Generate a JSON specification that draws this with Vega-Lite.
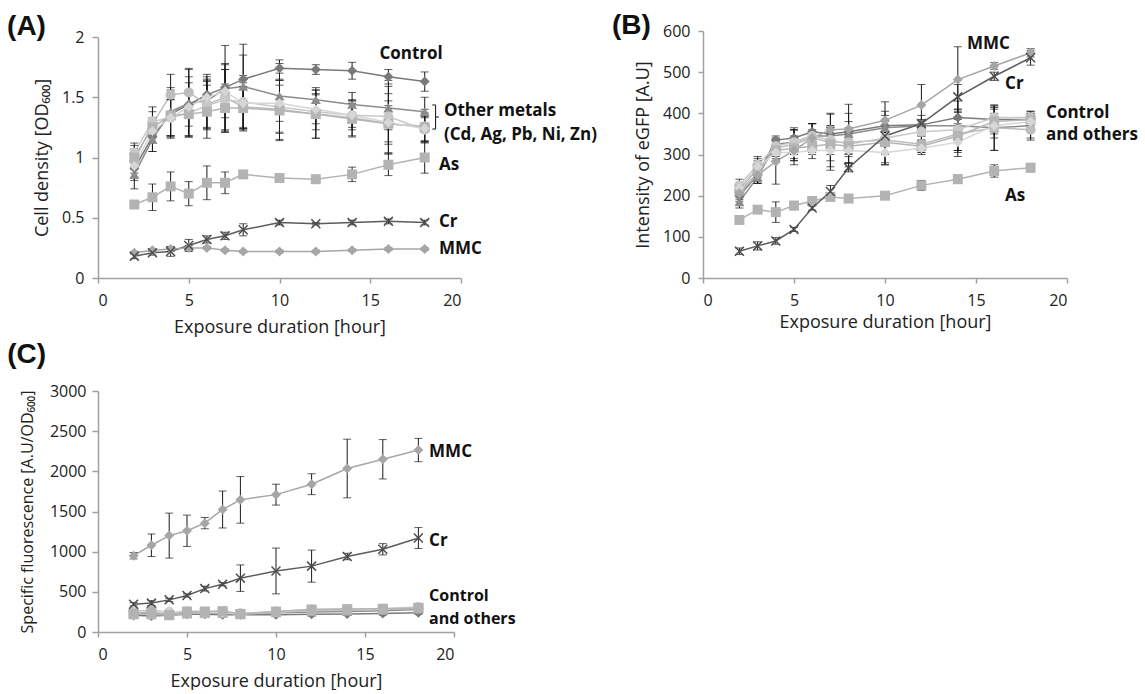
{
"$schema": "https://vega.github.io/schema/vega-lite/v6.json",
"padding": {"left": 7, "top": 12, "right": 0, "bottom": 0},
"config": {"font": "Open Sans", "view": {"stroke": null},
 "axis": {"grid": false, "domainColor": "#a0a0a0", "tickColor": "#a0a0a0", "domainWidth": 1.5, "tickWidth": 1.5, "labelColor": "#222", "titleColor": "#222", "labelFontSize": 16, "titleFontSize": 18, "titleFontWeight": "normal", "labelFont": "Open Sans", "titleFont": "Open Sans"}},
"datasets": {
"A": [
{"s":"Control","t":2,"v":0.91,"e":0.1},{"s":"Control","t":3,"v":1.17,"e":0.12},{"s":"Control","t":4,"v":1.36,"e":0.2},{"s":"Control","t":5,"v":1.44,"e":0.18},{"s":"Control","t":6,"v":1.52,"e":0.15},{"s":"Control","t":7,"v":1.58,"e":0.15},{"s":"Control","t":8,"v":1.65,"e":0.2},{"s":"Control","t":10,"v":1.74,"e":0.04},{"s":"Control","t":12,"v":1.73,"e":0.04},{"s":"Control","t":14,"v":1.72,"e":0.07},{"s":"Control","t":16,"v":1.67,"e":0.06},{"s":"Control","t":18,"v":1.63,"e":0.08},
{"s":"Cd","t":2,"v":0.86,"e":0.12},{"s":"Cd","t":3,"v":1.15,"e":0.1},{"s":"Cd","t":4,"v":1.38,"e":0.2},{"s":"Cd","t":5,"v":1.45,"e":0.28},{"s":"Cd","t":6,"v":1.47,"e":0.22},{"s":"Cd","t":7,"v":1.57,"e":0.36},{"s":"Cd","t":8,"v":1.59,"e":0.35},{"s":"Cd","t":10,"v":1.51,"e":0.3},{"s":"Cd","t":12,"v":1.48,"e":0.1},{"s":"Cd","t":14,"v":1.44,"e":0.1},{"s":"Cd","t":16,"v":1.41,"e":0.18},{"s":"Cd","t":18,"v":1.38,"e":0.12},
{"s":"Ag","t":2,"v":0.97,"e":0.1},{"s":"Ag","t":3,"v":1.28,"e":0.1},{"s":"Ag","t":4,"v":1.52,"e":0.17},{"s":"Ag","t":5,"v":1.54,"e":0.2},{"s":"Ag","t":6,"v":1.44,"e":0.2},{"s":"Ag","t":7,"v":1.5,"e":0.28},{"s":"Ag","t":8,"v":1.42,"e":0.2},{"s":"Ag","t":10,"v":1.4,"e":0.25},{"s":"Ag","t":12,"v":1.36,"e":0.2},{"s":"Ag","t":14,"v":1.33,"e":0.15},{"s":"Ag","t":16,"v":1.28,"e":0.25},{"s":"Ag","t":18,"v":1.26,"e":0.14},
{"s":"Pb","t":2,"v":1.04,"e":0.08},{"s":"Pb","t":3,"v":1.3,"e":0.12},{"s":"Pb","t":4,"v":1.33,"e":0.15},{"s":"Pb","t":5,"v":1.37,"e":0.19},{"s":"Pb","t":6,"v":1.43,"e":0.2},{"s":"Pb","t":7,"v":1.48,"e":0.25},{"s":"Pb","t":8,"v":1.46,"e":0.22},{"s":"Pb","t":10,"v":1.42,"e":0.22},{"s":"Pb","t":12,"v":1.38,"e":0.15},{"s":"Pb","t":14,"v":1.35,"e":0.12},{"s":"Pb","t":16,"v":1.34,"e":0.3},{"s":"Pb","t":18,"v":1.23,"e":0.1},
{"s":"Ni","t":2,"v":1.0,"e":0.1},{"s":"Ni","t":3,"v":1.25,"e":0.08},{"s":"Ni","t":4,"v":1.35,"e":0.18},{"s":"Ni","t":5,"v":1.36,"e":0.18},{"s":"Ni","t":6,"v":1.38,"e":0.22},{"s":"Ni","t":7,"v":1.41,"e":0.2},{"s":"Ni","t":8,"v":1.41,"e":0.18},{"s":"Ni","t":10,"v":1.39,"e":0.25},{"s":"Ni","t":12,"v":1.36,"e":0.2},{"s":"Ni","t":14,"v":1.32,"e":0.15},{"s":"Ni","t":16,"v":1.28,"e":0.15},{"s":"Ni","t":18,"v":1.25,"e":0.12},
{"s":"Zn","t":2,"v":0.93,"e":0.1},{"s":"Zn","t":3,"v":1.22,"e":0.1},{"s":"Zn","t":4,"v":1.33,"e":0.15},{"s":"Zn","t":5,"v":1.42,"e":0.25},{"s":"Zn","t":6,"v":1.5,"e":0.15},{"s":"Zn","t":7,"v":1.55,"e":0.22},{"s":"Zn","t":8,"v":1.45,"e":0.2},{"s":"Zn","t":10,"v":1.45,"e":0.15},{"s":"Zn","t":12,"v":1.4,"e":0.12},{"s":"Zn","t":14,"v":1.35,"e":0.1},{"s":"Zn","t":16,"v":1.29,"e":0.18},{"s":"Zn","t":18,"v":1.24,"e":0.1},
{"s":"As","t":2,"v":0.61,"e":0.02},{"s":"As","t":3,"v":0.67,"e":0.11},{"s":"As","t":4,"v":0.76,"e":0.12},{"s":"As","t":5,"v":0.7,"e":0.1},{"s":"As","t":6,"v":0.79,"e":0.14},{"s":"As","t":7,"v":0.79,"e":0.09},{"s":"As","t":8,"v":0.86,"e":0.02},{"s":"As","t":10,"v":0.83,"e":0.03},{"s":"As","t":12,"v":0.82,"e":0.02},{"s":"As","t":14,"v":0.86,"e":0.06},{"s":"As","t":16,"v":0.94,"e":0.09},{"s":"As","t":18,"v":1.0,"e":0.13},
{"s":"Cr","t":2,"v":0.18,"e":0.02},{"s":"Cr","t":3,"v":0.21,"e":0.02},{"s":"Cr","t":4,"v":0.22,"e":0.04},{"s":"Cr","t":5,"v":0.27,"e":0.05},{"s":"Cr","t":6,"v":0.32,"e":0.03},{"s":"Cr","t":7,"v":0.35,"e":0.03},{"s":"Cr","t":8,"v":0.4,"e":0.05},{"s":"Cr","t":10,"v":0.46,"e":0.02},{"s":"Cr","t":12,"v":0.45,"e":0.01},{"s":"Cr","t":14,"v":0.46,"e":0.02},{"s":"Cr","t":16,"v":0.47,"e":0.02},{"s":"Cr","t":18,"v":0.46,"e":0.02},
{"s":"MMC","t":2,"v":0.21,"e":0.01},{"s":"MMC","t":3,"v":0.23,"e":0.01},{"s":"MMC","t":4,"v":0.24,"e":0.02},{"s":"MMC","t":5,"v":0.25,"e":0.02},{"s":"MMC","t":6,"v":0.25,"e":0.01},{"s":"MMC","t":7,"v":0.23,"e":0.01},{"s":"MMC","t":8,"v":0.22,"e":0.01},{"s":"MMC","t":10,"v":0.22,"e":0.01},{"s":"MMC","t":12,"v":0.22,"e":0.01},{"s":"MMC","t":14,"v":0.23,"e":0.01},{"s":"MMC","t":16,"v":0.24,"e":0.01},{"s":"MMC","t":18,"v":0.24,"e":0.01}
],
"B": [
{"s":"Control","t":2,"v":200,"e":15},{"s":"Control","t":3,"v":250,"e":20},{"s":"Control","t":4,"v":335,"e":10},{"s":"Control","t":5,"v":340,"e":25},{"s":"Control","t":6,"v":355,"e":20},{"s":"Control","t":7,"v":350,"e":15},{"s":"Control","t":8,"v":355,"e":10},{"s":"Control","t":10,"v":370,"e":15},{"s":"Control","t":12,"v":372,"e":10},{"s":"Control","t":14,"v":390,"e":15},{"s":"Control","t":16,"v":385,"e":30},{"s":"Control","t":18,"v":385,"e":20},
{"s":"Cd","t":2,"v":185,"e":15},{"s":"Cd","t":3,"v":245,"e":15},{"s":"Cd","t":4,"v":325,"e":15},{"s":"Cd","t":5,"v":330,"e":30},{"s":"Cd","t":6,"v":345,"e":30},{"s":"Cd","t":7,"v":345,"e":25},{"s":"Cd","t":8,"v":350,"e":50},{"s":"Cd","t":10,"v":365,"e":40},{"s":"Cd","t":12,"v":370,"e":25},{"s":"Cd","t":14,"v":370,"e":60},{"s":"Cd","t":16,"v":365,"e":55},{"s":"Cd","t":18,"v":370,"e":30},
{"s":"Ag","t":2,"v":210,"e":20},{"s":"Ag","t":3,"v":255,"e":20},{"s":"Ag","t":4,"v":315,"e":20},{"s":"Ag","t":5,"v":325,"e":35},{"s":"Ag","t":6,"v":340,"e":35},{"s":"Ag","t":7,"v":330,"e":68},{"s":"Ag","t":8,"v":330,"e":50},{"s":"Ag","t":10,"v":335,"e":60},{"s":"Ag","t":12,"v":325,"e":20},{"s":"Ag","t":14,"v":350,"e":40},{"s":"Ag","t":16,"v":365,"e":55},{"s":"Ag","t":18,"v":360,"e":25},
{"s":"Pb","t":2,"v":225,"e":15},{"s":"Pb","t":3,"v":275,"e":20},{"s":"Pb","t":4,"v":320,"e":15},{"s":"Pb","t":5,"v":330,"e":30},{"s":"Pb","t":6,"v":345,"e":30},{"s":"Pb","t":7,"v":335,"e":35},{"s":"Pb","t":8,"v":325,"e":30},{"s":"Pb","t":10,"v":340,"e":40},{"s":"Pb","t":12,"v":355,"e":20},{"s":"Pb","t":14,"v":360,"e":50},{"s":"Pb","t":16,"v":390,"e":25},{"s":"Pb","t":18,"v":390,"e":15},
{"s":"Ni","t":2,"v":215,"e":10},{"s":"Ni","t":3,"v":265,"e":20},{"s":"Ni","t":4,"v":310,"e":20},{"s":"Ni","t":5,"v":315,"e":30},{"s":"Ni","t":6,"v":320,"e":20},{"s":"Ni","t":7,"v":325,"e":40},{"s":"Ni","t":8,"v":320,"e":40},{"s":"Ni","t":10,"v":330,"e":50},{"s":"Ni","t":12,"v":320,"e":15},{"s":"Ni","t":14,"v":345,"e":40},{"s":"Ni","t":16,"v":380,"e":30},{"s":"Ni","t":18,"v":385,"e":15},
{"s":"Zn","t":2,"v":220,"e":10},{"s":"Zn","t":3,"v":270,"e":20},{"s":"Zn","t":4,"v":305,"e":20},{"s":"Zn","t":5,"v":305,"e":30},{"s":"Zn","t":6,"v":310,"e":20},{"s":"Zn","t":7,"v":310,"e":40},{"s":"Zn","t":8,"v":310,"e":40},{"s":"Zn","t":10,"v":305,"e":30},{"s":"Zn","t":12,"v":315,"e":15},{"s":"Zn","t":14,"v":330,"e":35},{"s":"Zn","t":16,"v":370,"e":30},{"s":"Zn","t":18,"v":380,"e":15},
{"s":"As","t":2,"v":141,"e":5},{"s":"As","t":3,"v":166,"e":5},{"s":"As","t":4,"v":160,"e":25},{"s":"As","t":5,"v":176,"e":10},{"s":"As","t":6,"v":187,"e":5},{"s":"As","t":7,"v":197,"e":5},{"s":"As","t":8,"v":193,"e":5},{"s":"As","t":10,"v":200,"e":5},{"s":"As","t":12,"v":225,"e":12},{"s":"As","t":14,"v":240,"e":10},{"s":"As","t":16,"v":260,"e":15},{"s":"As","t":18,"v":268,"e":10},
{"s":"Cr","t":2,"v":65,"e":8},{"s":"Cr","t":3,"v":78,"e":10},{"s":"Cr","t":4,"v":90,"e":8},{"s":"Cr","t":5,"v":118,"e":5},{"s":"Cr","t":6,"v":170,"e":5},{"s":"Cr","t":7,"v":210,"e":15},{"s":"Cr","t":8,"v":268,"e":10},{"s":"Cr","t":10,"v":345,"e":10},{"s":"Cr","t":12,"v":375,"e":10},{"s":"Cr","t":14,"v":440,"e":30},{"s":"Cr","t":16,"v":490,"e":10},{"s":"Cr","t":18,"v":535,"e":18},
{"s":"MMC","t":2,"v":205,"e":10},{"s":"MMC","t":3,"v":250,"e":20},{"s":"MMC","t":4,"v":283,"e":55},{"s":"MMC","t":5,"v":310,"e":25},{"s":"MMC","t":6,"v":340,"e":20},{"s":"MMC","t":7,"v":360,"e":40},{"s":"MMC","t":8,"v":362,"e":60},{"s":"MMC","t":10,"v":383,"e":45},{"s":"MMC","t":12,"v":420,"e":50},{"s":"MMC","t":14,"v":482,"e":80},{"s":"MMC","t":16,"v":515,"e":8},{"s":"MMC","t":18,"v":547,"e":10}
],
"C": [
{"s":"Control","t":2,"v":210,"e":20},{"s":"Control","t":3,"v":200,"e":20},{"s":"Control","t":4,"v":210,"e":20},{"s":"Control","t":5,"v":220,"e":20},{"s":"Control","t":6,"v":220,"e":20},{"s":"Control","t":7,"v":215,"e":20},{"s":"Control","t":8,"v":215,"e":20},{"s":"Control","t":10,"v":215,"e":20},{"s":"Control","t":12,"v":220,"e":20},{"s":"Control","t":14,"v":225,"e":20},{"s":"Control","t":16,"v":230,"e":20},{"s":"Control","t":18,"v":240,"e":20},
{"s":"Cd","t":2,"v":230,"e":20},{"s":"Cd","t":3,"v":230,"e":20},{"s":"Cd","t":4,"v":220,"e":20},{"s":"Cd","t":5,"v":240,"e":20},{"s":"Cd","t":6,"v":240,"e":20},{"s":"Cd","t":7,"v":230,"e":20},{"s":"Cd","t":8,"v":220,"e":20},{"s":"Cd","t":10,"v":240,"e":20},{"s":"Cd","t":12,"v":250,"e":20},{"s":"Cd","t":14,"v":255,"e":20},{"s":"Cd","t":16,"v":265,"e":20},{"s":"Cd","t":18,"v":280,"e":20},
{"s":"Ag","t":2,"v":240,"e":20},{"s":"Ag","t":3,"v":240,"e":20},{"s":"Ag","t":4,"v":230,"e":20},{"s":"Ag","t":5,"v":250,"e":20},{"s":"Ag","t":6,"v":240,"e":20},{"s":"Ag","t":7,"v":250,"e":20},{"s":"Ag","t":8,"v":230,"e":20},{"s":"Ag","t":10,"v":250,"e":20},{"s":"Ag","t":12,"v":270,"e":20},{"s":"Ag","t":14,"v":275,"e":20},{"s":"Ag","t":16,"v":285,"e":20},{"s":"Ag","t":18,"v":290,"e":20},
{"s":"Pb","t":2,"v":260,"e":20},{"s":"Pb","t":3,"v":270,"e":20},{"s":"Pb","t":4,"v":250,"e":20},{"s":"Pb","t":5,"v":255,"e":20},{"s":"Pb","t":6,"v":250,"e":20},{"s":"Pb","t":7,"v":250,"e":20},{"s":"Pb","t":8,"v":230,"e":20},{"s":"Pb","t":10,"v":255,"e":20},{"s":"Pb","t":12,"v":280,"e":20},{"s":"Pb","t":14,"v":285,"e":20},{"s":"Pb","t":16,"v":290,"e":20},{"s":"Pb","t":18,"v":310,"e":20},
{"s":"Ni","t":2,"v":220,"e":20},{"s":"Ni","t":3,"v":220,"e":20},{"s":"Ni","t":4,"v":210,"e":20},{"s":"Ni","t":5,"v":230,"e":20},{"s":"Ni","t":6,"v":235,"e":20},{"s":"Ni","t":7,"v":240,"e":20},{"s":"Ni","t":8,"v":220,"e":20},{"s":"Ni","t":10,"v":245,"e":20},{"s":"Ni","t":12,"v":265,"e":20},{"s":"Ni","t":14,"v":270,"e":20},{"s":"Ni","t":16,"v":280,"e":20},{"s":"Ni","t":18,"v":300,"e":20},
{"s":"Zn","t":2,"v":250,"e":20},{"s":"Zn","t":3,"v":250,"e":20},{"s":"Zn","t":4,"v":245,"e":20},{"s":"Zn","t":5,"v":260,"e":20},{"s":"Zn","t":6,"v":250,"e":20},{"s":"Zn","t":7,"v":240,"e":20},{"s":"Zn","t":8,"v":225,"e":20},{"s":"Zn","t":10,"v":250,"e":20},{"s":"Zn","t":12,"v":275,"e":20},{"s":"Zn","t":14,"v":280,"e":20},{"s":"Zn","t":16,"v":285,"e":20},{"s":"Zn","t":18,"v":305,"e":20},
{"s":"As","t":2,"v":230,"e":20},{"s":"As","t":3,"v":250,"e":20},{"s":"As","t":4,"v":210,"e":20},{"s":"As","t":5,"v":255,"e":20},{"s":"As","t":6,"v":255,"e":20},{"s":"As","t":7,"v":260,"e":20},{"s":"As","t":8,"v":225,"e":20},{"s":"As","t":10,"v":255,"e":20},{"s":"As","t":12,"v":280,"e":20},{"s":"As","t":14,"v":285,"e":20},{"s":"As","t":16,"v":290,"e":20},{"s":"As","t":18,"v":300,"e":20},
{"s":"Cr","t":2,"v":345,"e":20},{"s":"Cr","t":3,"v":360,"e":30},{"s":"Cr","t":4,"v":400,"e":20},{"s":"Cr","t":5,"v":455,"e":20},{"s":"Cr","t":6,"v":540,"e":30},{"s":"Cr","t":7,"v":595,"e":20},{"s":"Cr","t":8,"v":670,"e":165},{"s":"Cr","t":10,"v":760,"e":285},{"s":"Cr","t":12,"v":820,"e":200},{"s":"Cr","t":14,"v":940,"e":40},{"s":"Cr","t":16,"v":1030,"e":70},{"s":"Cr","t":18,"v":1170,"e":130},
{"s":"MMC","t":2,"v":950,"e":40},{"s":"MMC","t":3,"v":1080,"e":140},{"s":"MMC","t":4,"v":1200,"e":280},{"s":"MMC","t":5,"v":1260,"e":195},{"s":"MMC","t":6,"v":1355,"e":70},{"s":"MMC","t":7,"v":1525,"e":230},{"s":"MMC","t":8,"v":1645,"e":290},{"s":"MMC","t":10,"v":1710,"e":130},{"s":"MMC","t":12,"v":1840,"e":130},{"s":"MMC","t":14,"v":2035,"e":365},{"s":"MMC","t":16,"v":2150,"e":245},{"s":"MMC","t":18,"v":2265,"e":145}
]
},
"spacing": 4,
"vconcat": [
{"hconcat": [
{"width": 363, "height": 247,
 "layer": [
  {"data": {"name": "A"}, "mark": {"type": "line", "strokeWidth": 1.5},
   "encoding": {
    "x": {"field": "t", "type": "quantitative", "title": "Exposure duration [hour]", "scale": {"domain": [0, 20], "nice": false}, "axis": {"values": [0, 5, 10, 15, 20], "tickSize": 5, "labelPadding": 9, "titlePadding": 10}},
    "y": {"field": "v", "type": "quantitative", "title": "Cell density [OD₆₀₀]", "scale": {"domain": [0, 2], "nice": false, "range": [247, 6]}, "axis": {"values": [0, 0.5, 1, 1.5, 2], "format": "~g", "tickSize": 6, "labelPadding": 8, "titlePadding": 10}},
    "color": {"field": "s", "type": "nominal", "legend": null, "scale": {"domain": ["Control","Cd","Ag","Pb","Ni","Zn","As","Cr","MMC"], "range": ["#7a7a7a","#8c8c8c","#bdbdbd","#c9c9c9","#b5b5b5","#d6d6d6","#b3b3b3","#5c5c5c","#a6a6a6"]}}}},
  {"data": {"name": "A"}, "mark": {"type": "errorbar", "ticks": {"size": 8}, "color": "#1a1a1a", "thickness": 1},
   "encoding": {"x": {"field": "t", "type": "quantitative", "title": "Exposure duration [hour]"}, "y": {"field": "v", "type": "quantitative", "title": "Cell density [OD₆₀₀]"}, "yError": {"field": "e"}}},
  {"data": {"name": "A"}, "transform": [{"filter": "datum.s !== 'Cr'"}], "mark": {"type": "point", "filled": true, "opacity": 1, "size": 100},
   "encoding": {"x": {"field": "t", "type": "quantitative", "title": "Exposure duration [hour]"}, "y": {"field": "v", "type": "quantitative", "title": "Cell density [OD₆₀₀]"},
    "color": {"field": "s", "type": "nominal", "legend": null},
    "shape": {"field": "s", "type": "nominal", "legend": null, "scale": {"domain": ["Control","Cd","Ag","Pb","Ni","Zn","As","Cr","MMC"], "range": ["diamond","triangle-up","circle","circle","square","diamond","square","cross","diamond"]}}}},
  {"data": {"name": "A"}, "transform": [{"filter": "datum.s === 'Cr'"}], "mark": {"type": "point", "shape": "M-1,-1L1,1M1,-1L-1,1", "filled": false, "strokeWidth": 1.5, "size": 80, "color": "#4d4d4d", "opacity": 1},
   "encoding": {"x": {"field": "t", "type": "quantitative", "title": "Exposure duration [hour]"}, "y": {"field": "v", "type": "quantitative", "title": "Cell density [OD₆₀₀]"}}},
  {"data": {"values": [{}]}, "mark": {"type": "text", "align": "left", "baseline": "middle", "fontSize": 28, "fontWeight": "bold", "font": "Liberation Sans", "color": "#111"}, "encoding": {"x": {"datum": -5.01}, "y": {"datum": 2.083}, "text": {"value": "(A)"}}},
  {"data": {"values": [{}]}, "mark": {"type": "text", "align": "center", "baseline": "middle", "fontSize": 17, "fontWeight": "bold", "color": "#111"}, "encoding": {"x": {"datum": 17.25}, "y": {"datum": 1.86}, "text": {"value": "Control"}}},
  {"data": {"values": [{}]}, "mark": {"type": "text", "align": "left", "baseline": "middle", "fontSize": 17, "fontWeight": "bold", "color": "#111"}, "encoding": {"x": {"datum": 19.06}, "y": {"datum": 1.385}, "text": {"value": "Other metals"}}},
  {"data": {"values": [{}]}, "mark": {"type": "text", "align": "left", "baseline": "middle", "fontSize": 17, "fontWeight": "bold", "color": "#111"}, "encoding": {"x": {"datum": 19.06}, "y": {"datum": 1.19}, "text": {"value": "(Cd, Ag, Pb, Ni, Zn)"}}},
  {"data": {"values": [{}]}, "mark": {"type": "text", "align": "left", "baseline": "middle", "fontSize": 17, "fontWeight": "bold", "color": "#111"}, "encoding": {"x": {"datum": 18.79}, "y": {"datum": 0.938}, "text": {"value": "As"}}},
  {"data": {"values": [{}]}, "mark": {"type": "text", "align": "left", "baseline": "middle", "fontSize": 17, "fontWeight": "bold", "color": "#111"}, "encoding": {"x": {"datum": 18.79}, "y": {"datum": 0.465}, "text": {"value": "Cr"}}},
  {"data": {"values": [{}]}, "mark": {"type": "text", "align": "left", "baseline": "middle", "fontSize": 17, "fontWeight": "bold", "color": "#111"}, "encoding": {"x": {"datum": 18.79}, "y": {"datum": 0.241}, "text": {"value": "MMC"}}},
  {"data": {"values": [{}]}, "mark": {"type": "rule", "color": "#111", "strokeWidth": 1}, "encoding": {"x": {"datum": 18.6}, "y": {"datum": 1.236}, "y2": {"datum": 1.436}}},
  {"data": {"values": [{}]}, "mark": {"type": "rule", "color": "#111", "strokeWidth": 1}, "encoding": {"x": {"datum": 18.42}, "x2": {"datum": 18.6}, "y": {"datum": 1.436}}},
  {"data": {"values": [{}]}, "mark": {"type": "rule", "color": "#111", "strokeWidth": 1}, "encoding": {"x": {"datum": 18.42}, "x2": {"datum": 18.6}, "y": {"datum": 1.236}}},
  {"data": {"values": [{}]}, "mark": {"type": "rule", "color": "#111", "strokeWidth": 1}, "encoding": {"x": {"datum": 18.6}, "x2": {"datum": 18.78}, "y": {"datum": 1.336}}}
 ]},
{"width": 364, "height": 247,
 "layer": [
  {"data": {"name": "B"}, "mark": {"type": "line", "strokeWidth": 1.5},
   "encoding": {
    "x": {"field": "t", "type": "quantitative", "title": "Exposure duration [hour]", "scale": {"domain": [0, 20], "nice": false}, "axis": {"values": [0, 5, 10, 15, 20], "tickSize": 5, "labelPadding": 9, "titlePadding": 5}},
    "y": {"field": "v", "type": "quantitative", "title": "Intensity of eGFP [A.U]", "scale": {"domain": [0, 600], "nice": false}, "axis": {"values": [0, 100, 200, 300, 400, 500, 600], "tickSize": 5, "labelPadding": 8, "titlePadding": 10}},
    "color": {"field": "s", "type": "nominal", "legend": null, "scale": {"domain": ["Control","Cd","Ag","Pb","Ni","Zn","As","Cr","MMC"], "range": ["#7a7a7a","#8c8c8c","#bdbdbd","#c9c9c9","#b5b5b5","#d6d6d6","#b3b3b3","#5c5c5c","#a6a6a6"]}}}},
  {"data": {"name": "B"}, "mark": {"type": "errorbar", "ticks": {"size": 8}, "color": "#1a1a1a", "thickness": 1},
   "encoding": {"x": {"field": "t", "type": "quantitative", "title": "Exposure duration [hour]"}, "y": {"field": "v", "type": "quantitative", "title": "Intensity of eGFP [A.U]"}, "yError": {"field": "e"}}},
  {"data": {"name": "B"}, "transform": [{"filter": "datum.s !== 'Cr'"}], "mark": {"type": "point", "filled": true, "opacity": 1, "size": 100},
   "encoding": {"x": {"field": "t", "type": "quantitative", "title": "Exposure duration [hour]"}, "y": {"field": "v", "type": "quantitative", "title": "Intensity of eGFP [A.U]"},
    "color": {"field": "s", "type": "nominal", "legend": null},
    "shape": {"field": "s", "type": "nominal", "legend": null, "scale": {"domain": ["Control","Cd","Ag","Pb","Ni","Zn","As","Cr","MMC"], "range": ["diamond","triangle-up","circle","circle","square","diamond","square","cross","diamond"]}}}},
  {"data": {"name": "B"}, "transform": [{"filter": "datum.s === 'Cr'"}], "mark": {"type": "point", "shape": "M-1,-1L1,1M1,-1L-1,1", "filled": false, "strokeWidth": 1.5, "size": 80, "color": "#4d4d4d", "opacity": 1},
   "encoding": {"x": {"field": "t", "type": "quantitative", "title": "Exposure duration [hour]"}, "y": {"field": "v", "type": "quantitative", "title": "Intensity of eGFP [A.U]"}}},
  {"data": {"values": [{}]}, "mark": {"type": "text", "align": "left", "baseline": "middle", "fontSize": 28, "fontWeight": "bold", "font": "Liberation Sans", "color": "#111"}, "encoding": {"x": {"datum": -5.0}, "y": {"datum": 612}, "text": {"value": "(B)"}}},
  {"data": {"values": [{}]}, "mark": {"type": "text", "align": "left", "baseline": "middle", "fontSize": 17, "fontWeight": "bold", "color": "#111"}, "encoding": {"x": {"datum": 14.5}, "y": {"datum": 568}, "text": {"value": "MMC"}}},
  {"data": {"values": [{}]}, "mark": {"type": "text", "align": "left", "baseline": "middle", "fontSize": 17, "fontWeight": "bold", "color": "#111"}, "encoding": {"x": {"datum": 16.6}, "y": {"datum": 471}, "text": {"value": "Cr"}}},
  {"data": {"values": [{}]}, "mark": {"type": "text", "align": "left", "baseline": "middle", "fontSize": 17, "fontWeight": "bold", "color": "#111"}, "encoding": {"x": {"datum": 18.85}, "y": {"datum": 400}, "text": {"value": "Control"}}},
  {"data": {"values": [{}]}, "mark": {"type": "text", "align": "left", "baseline": "middle", "fontSize": 17, "fontWeight": "bold", "color": "#111"}, "encoding": {"x": {"datum": 18.85}, "y": {"datum": 348}, "text": {"value": "and others"}}},
  {"data": {"values": [{}]}, "mark": {"type": "text", "align": "left", "baseline": "middle", "fontSize": 17, "fontWeight": "bold", "color": "#111"}, "encoding": {"x": {"datum": 16.6}, "y": {"datum": 199}, "text": {"value": "As"}}}
 ]}
], "spacing": 15},
{"width": 356, "height": 241,
 "layer": [
  {"data": {"name": "C"}, "mark": {"type": "line", "strokeWidth": 1.5},
   "encoding": {
    "x": {"field": "t", "type": "quantitative", "title": "Exposure duration [hour]", "scale": {"domain": [0, 20], "nice": false}, "axis": {"values": [0, 5, 10, 15, 20], "tickSize": 5, "labelPadding": 9, "titlePadding": 10}},
    "y": {"field": "v", "type": "quantitative", "title": "Specific fluorescence [A.U/OD₆₀₀]", "scale": {"domain": [0, 3000], "nice": false}, "axis": {"values": [0, 500, 1000, 1500, 2000, 2500, 3000], "format": "d", "tickSize": 6, "labelPadding": 6, "titlePadding": 14, "titleFontSize": 16}},
    "color": {"field": "s", "type": "nominal", "legend": null, "scale": {"domain": ["Control","Cd","Ag","Pb","Ni","Zn","As","Cr","MMC"], "range": ["#7a7a7a","#8c8c8c","#bdbdbd","#c9c9c9","#b5b5b5","#d6d6d6","#b3b3b3","#5c5c5c","#a6a6a6"]}}}},
  {"data": {"name": "C"}, "mark": {"type": "errorbar", "ticks": {"size": 8}, "color": "#1a1a1a", "thickness": 1},
   "encoding": {"x": {"field": "t", "type": "quantitative", "title": "Exposure duration [hour]"}, "y": {"field": "v", "type": "quantitative", "title": "Specific fluorescence [A.U/OD₆₀₀]"}, "yError": {"field": "e"}}},
  {"data": {"name": "C"}, "transform": [{"filter": "datum.s !== 'Cr'"}], "mark": {"type": "point", "filled": true, "opacity": 1, "size": 100},
   "encoding": {"x": {"field": "t", "type": "quantitative", "title": "Exposure duration [hour]"}, "y": {"field": "v", "type": "quantitative", "title": "Specific fluorescence [A.U/OD₆₀₀]"},
    "color": {"field": "s", "type": "nominal", "legend": null},
    "shape": {"field": "s", "type": "nominal", "legend": null, "scale": {"domain": ["Control","Cd","Ag","Pb","Ni","Zn","As","Cr","MMC"], "range": ["diamond","triangle-up","circle","circle","square","diamond","square","cross","diamond"]}}}},
  {"data": {"name": "C"}, "transform": [{"filter": "datum.s === 'Cr'"}], "mark": {"type": "point", "shape": "M-1,-1L1,1M1,-1L-1,1", "filled": false, "strokeWidth": 1.5, "size": 80, "color": "#4d4d4d", "opacity": 1},
   "encoding": {"x": {"field": "t", "type": "quantitative", "title": "Exposure duration [hour]"}, "y": {"field": "v", "type": "quantitative", "title": "Specific fluorescence [A.U/OD₆₀₀]"}}},
  {"data": {"values": [{}]}, "mark": {"type": "text", "align": "left", "baseline": "middle", "fontSize": 28, "fontWeight": "bold", "font": "Liberation Sans", "color": "#111"}, "encoding": {"x": {"datum": -5.1}, "y": {"datum": 3449}, "text": {"value": "(C)"}}},
  {"data": {"values": [{}]}, "mark": {"type": "text", "align": "left", "baseline": "middle", "fontSize": 17, "fontWeight": "bold", "color": "#111"}, "encoding": {"x": {"datum": 18.6}, "y": {"datum": 2241}, "text": {"value": "MMC"}}},
  {"data": {"values": [{}]}, "mark": {"type": "text", "align": "left", "baseline": "middle", "fontSize": 17, "fontWeight": "bold", "color": "#111"}, "encoding": {"x": {"datum": 18.6}, "y": {"datum": 1133}, "text": {"value": "Cr"}}},
  {"data": {"values": [{}]}, "mark": {"type": "text", "align": "left", "baseline": "middle", "fontSize": 16, "fontWeight": "bold", "color": "#111"}, "encoding": {"x": {"datum": 18.6}, "y": {"datum": 442}, "text": {"value": "Control"}}},
  {"data": {"values": [{}]}, "mark": {"type": "text", "align": "left", "baseline": "middle", "fontSize": 16, "fontWeight": "bold", "color": "#111"}, "encoding": {"x": {"datum": 18.6}, "y": {"datum": 166}, "text": {"value": "and others"}}}
 ]}
]
}
